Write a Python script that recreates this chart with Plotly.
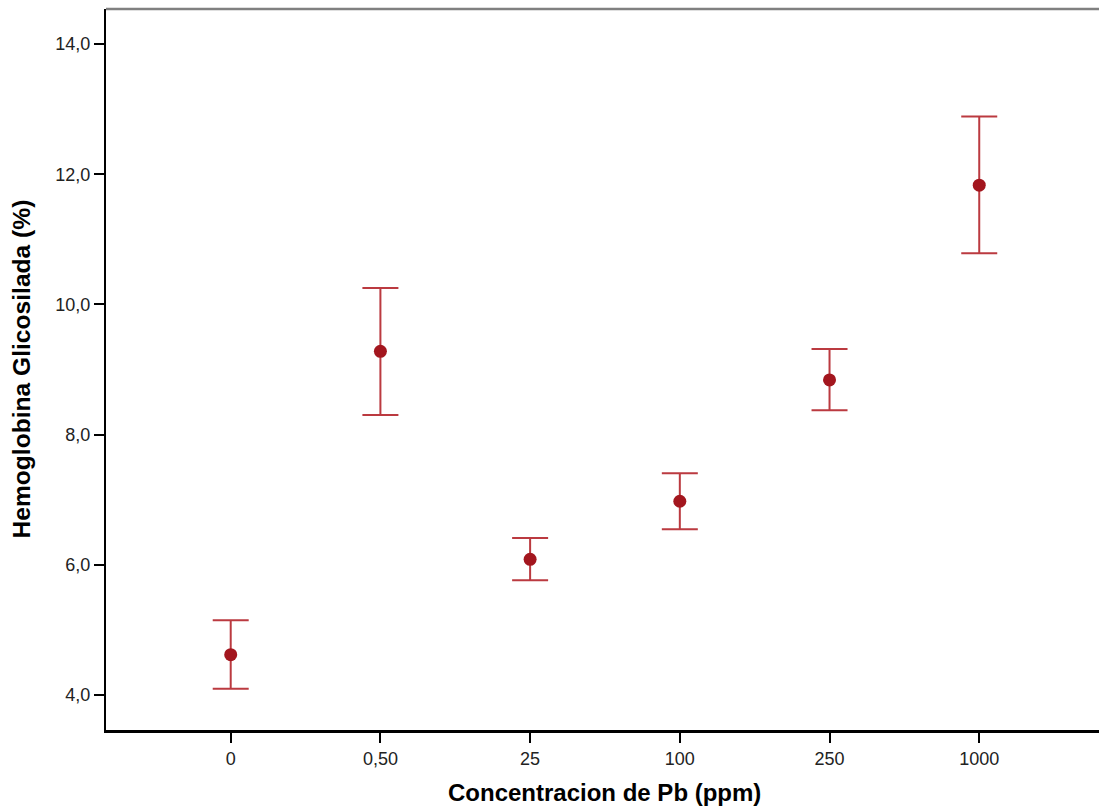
import plotly.graph_objects as go

categories = ["0", "0,50", "25", "100", "250", "1000"]
means = [4.62, 9.28, 6.085, 6.977, 8.841, 11.833]
upper = [5.148, 10.255, 6.413, 7.407, 9.317, 12.887]
lower = [4.097, 8.303, 5.763, 6.546, 8.375, 10.788]

err_plus = [u - m for u, m in zip(upper, means)]
err_minus = [m - l for m, l in zip(means, lower)]

fig = go.Figure()
fig.add_trace(go.Scatter(
    x=categories, y=means, mode="markers",
    marker=dict(color="#a3161e", size=13),
    error_y=dict(type="data", symmetric=False, array=err_plus, arrayminus=err_minus,
                 color="#bb3a40", thickness=2, width=18),
    showlegend=False,
))

font_family = "Liberation Sans, Arial, sans-serif"
fig.update_layout(
    width=1099, height=808,
    margin=dict(l=106, r=0, t=9, b=77),
    paper_bgcolor="white", plot_bgcolor="white",
    separators=",.",
    font=dict(family=font_family, color="#222222"),
    xaxis=dict(
        type="category", range=[-0.833, 5.80],
        showline=True, linecolor="black", linewidth=2,
        ticks="outside", ticklen=10, tickwidth=2, tickcolor="black",
        showgrid=False, zeroline=False,
        tickfont=dict(size=18, color="#222222"),
    ),
    yaxis=dict(
        range=[3.447, 14.54],
        tickvals=[4, 6, 8, 10, 12, 14], tickformat=".1f",
        showline=True, linecolor="black", linewidth=2,
        ticks="outside", ticklen=10, tickwidth=2, tickcolor="black",
        showgrid=False, zeroline=False,
        tickfont=dict(size=18, color="#222222"),
    ),
    shapes=[
        dict(type="line", xref="paper", yref="paper", x0=0, x1=1, y0=1, y1=1,
             line=dict(color="#808080", width=2.5)),
        dict(type="line", xref="paper", yref="paper", x0=0, x1=1, y0=0, y1=0,
             line=dict(color="black", width=2)),
    ],
    annotations=[
        dict(text="<b>Concentracion de Pb (ppm)</b>", xref="paper", yref="paper",
             x=0.5025, y=-0.0845, xanchor="center", yanchor="middle", showarrow=False,
             font=dict(size=24, color="black")),
        dict(text="<b>Hemoglobina Glicosilada (%)</b>", xref="paper", yref="paper",
             x=-0.0846, y=0.502, xanchor="center", yanchor="middle", showarrow=False,
             textangle=-90, font=dict(size=24.6, color="black")),
    ],
)

fig.write_html("out.html", config={"displayModeBar": False},
               post_script="document.body.style.margin='0';document.body.style.overflow='hidden';")
